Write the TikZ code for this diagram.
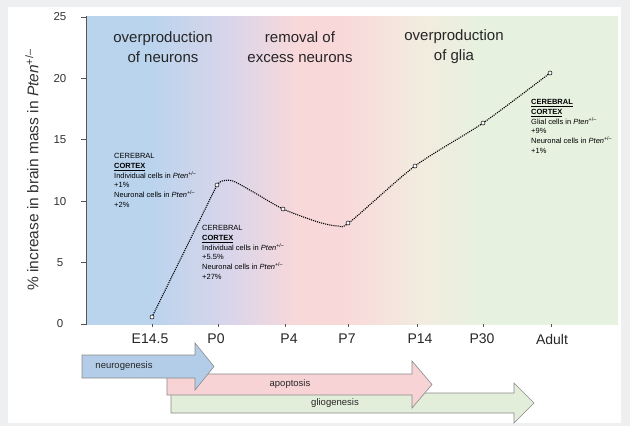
\documentclass[tikz,border=0pt]{standalone}
\usepackage{fontspec}
\setmainfont{Liberation Sans}
\definecolor{cframe}{HTML}{EDEFF1}
\definecolor{cblue}{HTML}{BAD4EE}
\definecolor{clav}{HTML}{D9D5EA}
\definecolor{cpink}{HTML}{F9D8DA}
\definecolor{ccream}{HTML}{F2ECDF}
\definecolor{cgreen}{HTML}{E7F1E0}
\definecolor{ablue}{HTML}{B3CDE8}
\definecolor{apink}{HTML}{F7D3D5}
\definecolor{agreen}{HTML}{E2EEDA}
\definecolor{axisgray}{HTML}{555555}
\definecolor{aline}{HTML}{8A8A8A}
\pgfdeclarehorizontalshading{bgshade}{100bp}{color(0bp)=(cblue); color(31bp)=(cblue); color(38.5bp)=(clav); color(45bp)=(cpink); color(49bp)=(cpink); color(56.5bp)=(ccream); color(62bp)=(cgreen); color(100bp)=(cgreen)}
\tikzset{
  titletext/.style={font=\fontsize{15}{20}\selectfont, align=center, text=black!85},
  ticklabel/.style={font=\fontsize{11.5}{14}\selectfont, text=black!80},
  xlabel/.style={font=\fontsize{14}{16}\selectfont, text=black!85},
  annot/.style={font=\fontsize{7.5}{9.8}\selectfont, align=left, anchor=north west, inner sep=0pt},
  arrowshape/.style={draw=aline, line width=0.6pt},
  arrowtext/.style={font=\fontsize{9.5}{11}\selectfont, text=black!85},
  datapt/.style={circle, draw=black, fill=white, line width=0.5pt, inner sep=0pt, minimum size=4pt},
  curve/.style={black, line width=1.1pt, densely dotted},
}
\begin{document}
\begin{tikzpicture}[x=1pt,y=-1pt]
\useasboundingbox (0,0) rectangle (630,426);
\fill[cframe] (0,0) rectangle (630,426);
\fill[white] (8,7) rectangle (621,423);
\shade[shading=bgshade] (86,16) rectangle (618,324);

% y axis
\draw[axisgray, line width=1pt] (86,16) -- (86,325);
\foreach \v/\yy in {0/324,5/262.6,10/201.2,15/139.8,20/78.4,25/17}{
  \draw[axisgray, line width=0.8pt] (81,\yy) -- (86,\yy);
  \node[ticklabel] at (60,\yy) {\v};
}
\node[font=\fontsize{15.5}{18}\selectfont, rotate=90, text=black!80] (ylab) at (32,170) {\% increase in brain mass in \textit{Pten}\textsuperscript{+/--}};

% x ticks and labels
\foreach \xx in {152,218,285,348,417,483,551}{
  \draw[axisgray, line width=0.8pt] (\xx,324) -- (\xx,327);
}
\node[xlabel] (lE) at (150,339) {E14.5};
\node[xlabel] (lP0) at (216,339) {P0};
\node[xlabel] (lP4) at (289,339) {P4};
\node[xlabel] (lP7) at (347,339) {P7};
\node[xlabel] (lP14) at (420,339) {P14};
\node[xlabel] (lP30) at (482,339) {P30};
\node[xlabel] (lAd) at (552,339) {Adult};

% titles
\node[titletext] (t1) at (163,47) {overproduction\\of neurons};
\node[titletext] (t2) at (300,47) {removal of\\excess neurons};
\node[titletext] (t3) at (454,47) {overproduction\\of glia};

% data curve
\coordinate (p1) at (152,317);
\coordinate (p2) at (217,185);
\draw[curve] (p1) -- (p2);
\draw[curve] plot[smooth, tension=0.45] coordinates {(217,185) (222,181) (233,181) (255,193) (283,209) (318,222) (338,226) (350,222) (415,166) (483,123) (550,73)};

% data points
\node[datapt] (d1) at (152,317) {};
\node[datapt] (d2) at (217,185) {};
\node[datapt] (d3) at (283,209) {};
\node[datapt] (d4) at (348,223) {};
\node[datapt] (d5) at (415,166) {};
\node[datapt] (d6) at (483,123) {};
\node[datapt] (d7) at (550,73) {};

% annotations
\node[annot] (c1) at (114,153) {CEREBRAL\\\underline{\textbf{CORTEX}}\\Individual cells in \textit{Pten}\textsuperscript{+/--}\\+1\%\\Neuronal cells in \textit{Pten}\textsuperscript{+/--}\\+2\%};
\node[annot] (c2) at (202,225) {CEREBRAL\\\underline{\textbf{CORTEX}}\\Individual cells in \textit{Pten}\textsuperscript{+/--}\\+5.5\%\\Neuronal cells in \textit{Pten}\textsuperscript{+/--}\\+27\%};
\node[annot] (c3) at (531,99) {\underline{\textbf{CEREBRAL}}\\\underline{\textbf{CORTEX}}\\Glial cells in \textit{Pten}\textsuperscript{+/--}\\+9\%\\Neuronal cells in \textit{Pten}\textsuperscript{+/--}\\+1\%};

% process arrows
\draw[arrowshape, fill=agreen] (171,393) -- (514,393) -- (514,383) -- (534,403) -- (514,423) -- (514,413) -- (171,413) -- cycle;
\draw[arrowshape, fill=apink] (167,374) -- (412,374) -- (412,361) -- (432,384.5) -- (412,408) -- (412,395) -- (167,395) -- cycle;
\draw[arrowshape, fill=ablue] (82,355) -- (195,355) -- (195,343) -- (214,366.5) -- (195,390) -- (195,378) -- (82,378) -- cycle;
\node[arrowtext] (ng) at (124,366.5) {neurogenesis};
\node[arrowtext] (ap) at (290,384.5) {apoptosis};
\node[arrowtext] (gg) at (335,403) {gliogenesis};
\end{tikzpicture}
\end{document}
